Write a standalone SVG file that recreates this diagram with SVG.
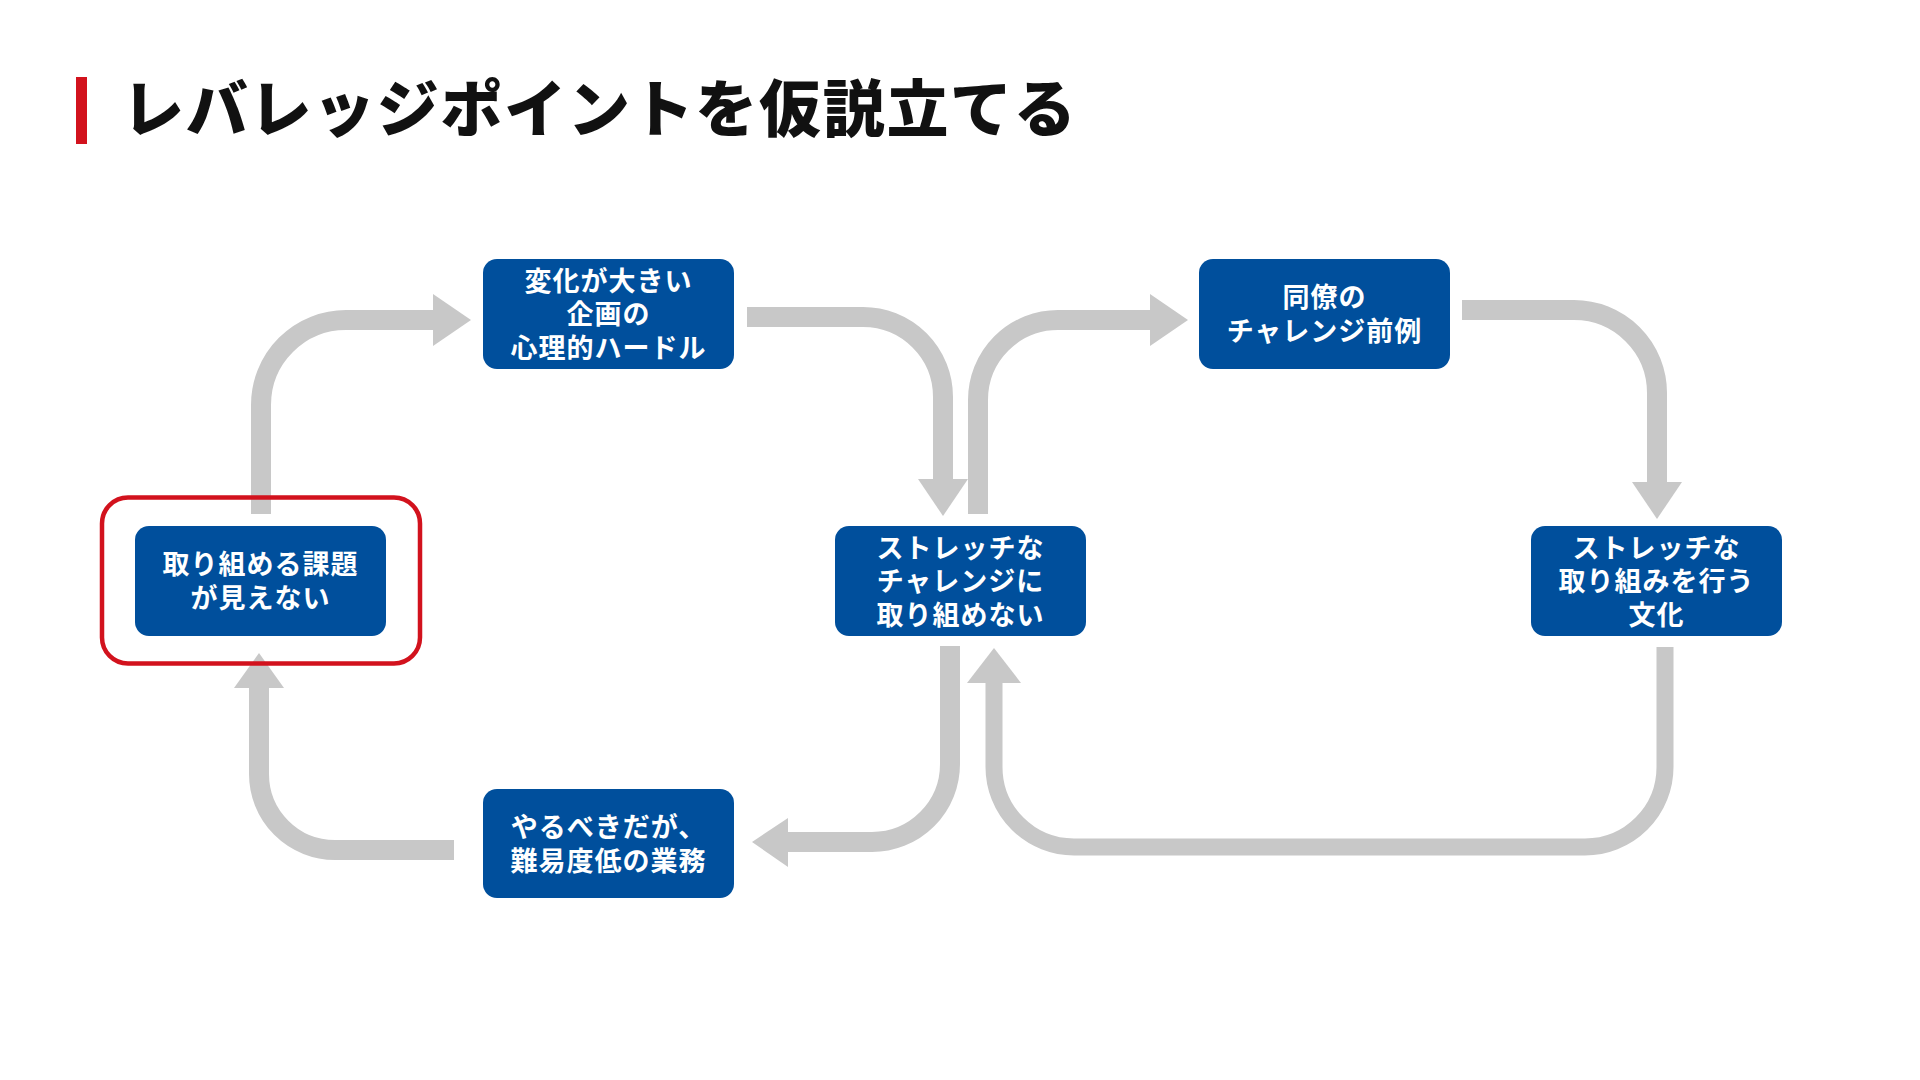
<svg xmlns="http://www.w3.org/2000/svg" width="1920" height="1080" viewBox="0 0 1920 1080">
  <style>
    .node { fill: #004f9c; }
    .label { font-family: "Noto Sans CJK JP", "Noto Sans", sans-serif; font-weight: 700; font-size: 27px; fill: #ffffff; text-anchor: middle; letter-spacing: 1px; }
    .title { font-family: "Noto Sans CJK JP", "Noto Sans", sans-serif; font-weight: 900; font-size: 62px; fill: #111111; letter-spacing: 1.7px; }
    .shaft { fill: none; stroke: #c8c8c8; stroke-width: 20; stroke-linecap: butt; stroke-linejoin: round; }
    .head { fill: #c8c8c8; }
    .hl { fill: none; stroke: #d2121d; stroke-width: 4.5; }
  </style>
  <rect x="0" y="0" width="1920" height="1080" fill="#ffffff"/>

  <g id="title">
    <rect x="76" y="77" width="11" height="67" fill="#d2121d"/>
    <text class="title" x="122" y="132">レバレッジポイントを仮説立てる</text>
  </g>

  <g id="connectors">
    <!-- node1 -> node2 -->
    <path class="shaft" d="M 261 514 V 405 A 85 85 0 0 1 346 320 H 434"/>
    <polygon class="head" points="433,294 471,320 433,346"/>
    <!-- node2 -> node4 -->
    <path class="shaft" d="M 747 317 H 863 A 80 80 0 0 1 943 397 V 480"/>
    <polygon class="head" points="918,479 968,479 943,516"/>
    <!-- node4 -> node3 -->
    <path class="shaft" d="M 978 514 V 400 A 80 80 0 0 1 1058 320 H 1151"/>
    <polygon class="head" points="1150,294 1188,320 1150,346"/>
    <!-- node3 -> node5 -->
    <path class="shaft" d="M 1462 310 H 1574 A 83 83 0 0 1 1657 393 V 483"/>
    <polygon class="head" points="1632,482 1682,482 1657,519"/>
    <!-- node4 -> node6 -->
    <path class="shaft" d="M 950 646 V 764 A 78 78 0 0 1 872 842 H 787"/>
    <polygon class="head" points="788,818 752,842 788,867"/>
    <!-- node6 -> node1 -->
    <path class="shaft" d="M 454 850 H 335 A 76 76 0 0 1 259 774 V 687"/>
    <polygon class="head" points="234,688 259,653 284,688"/>
    <!-- node5 -> node4 -->
    <path class="shaft" style="stroke-width:17" d="M 1665 647 V 767 A 80 80 0 0 1 1585 847 H 1074 A 80 80 0 0 1 994 767 V 682"/>
    <polygon class="head" points="967,683 994,648 1021,683"/>
  </g>

  <g id="node1">
    <rect class="node" x="135" y="526" width="251" height="110" rx="14"/>
    <text class="label" y="574"><tspan x="260.5">取り組める課題</tspan><tspan x="260.5" dy="34">が見えない</tspan></text>
    <rect class="hl" x="102" y="497.5" width="318" height="166" rx="26"/>
  </g>

  <g id="node2">
    <rect class="node" x="483" y="259" width="251" height="110" rx="14"/>
    <text class="label" y="290.5"><tspan x="608.5">変化が大きい</tspan><tspan x="608.5" dy="33.5">企画の</tspan><tspan x="608.5" dy="33.5">心理的ハードル</tspan></text>
  </g>

  <g id="node3">
    <rect class="node" x="1199" y="259" width="251" height="110" rx="14"/>
    <text class="label" y="307"><tspan x="1324.5">同僚の</tspan><tspan x="1324.5" dy="34">チャレンジ前例</tspan></text>
  </g>

  <g id="node4">
    <rect class="node" x="835" y="526" width="251" height="110" rx="14"/>
    <text class="label" y="557.5"><tspan x="960.5">ストレッチな</tspan><tspan x="960.5" dy="33.5">チャレンジに</tspan><tspan x="960.5" dy="33.5">取り組めない</tspan></text>
  </g>

  <g id="node5">
    <rect class="node" x="1531" y="526" width="251" height="110" rx="14"/>
    <text class="label" y="557.5"><tspan x="1656.5">ストレッチな</tspan><tspan x="1656.5" dy="33.5">取り組みを行う</tspan><tspan x="1656.5" dy="33.5">文化</tspan></text>
  </g>

  <g id="node6">
    <rect class="node" x="483" y="789" width="251" height="109" rx="14"/>
    <text class="label" y="836.5"><tspan x="608.5">やるべきだが、</tspan><tspan x="608.5" dy="34">難易度低の業務</tspan></text>
  </g>
</svg>
